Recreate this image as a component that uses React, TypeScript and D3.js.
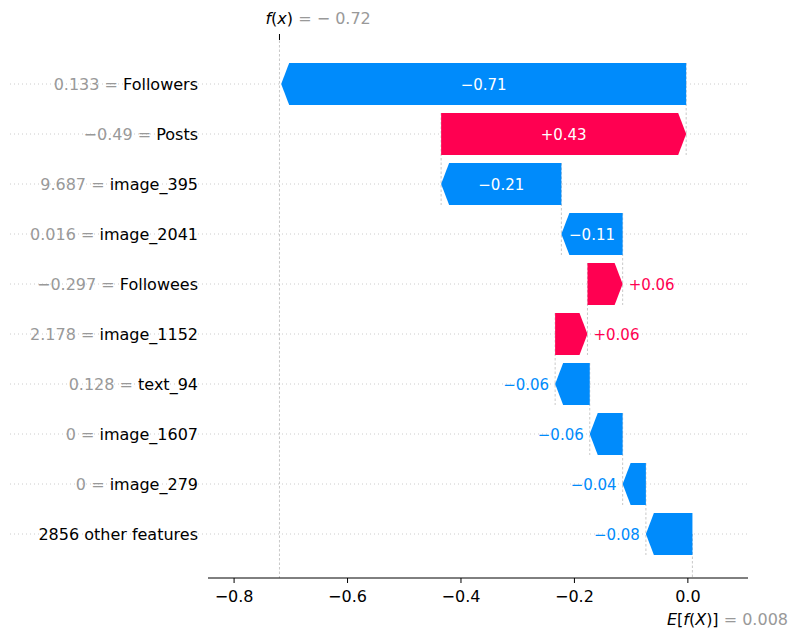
import React from "react";
import * as d3 from "d3";

const featureValues = ["0.133", "\u22120.49", "9.687", "0.016", "\u22120.297", "2.178", "0.128", "0", "0", ""];
const featureNames = ["Followers", "Posts", "image_395", "image_2041", "Followees", "image_1152", "text_94", "image_1607", "image_279", "2856 other features"];
const shapValues = [-0.714, 0.432, -0.212, -0.108, 0.062, 0.057, -0.061, -0.058, -0.041, -0.082];
const baseValue = 0.008;
const fx = -0.72;
const ticks = [-0.8, -0.6, -0.4, -0.2, 0.0];

const BLUE = "#008bfb", RED = "#ff0051";
const fmt = (v: number) => (v < 0 ? "\u2212" : "+") + Math.abs(v).toFixed(2);
const fmtTick = (v: number) => (v < 0 ? "\u2212" : "") + Math.abs(v).toFixed(1);

export default function App() {
  const W = 798, H = 640;
  const x = d3.scaleLinear().domain([-0.846, 0.106]).range([208, 748]);
  const y = (i: number) => 84 + i * 50;
  const bh = 42, notch = 8;
  const n = shapValues.length;
  // cumulative: start from base at bottom
  const ends: number[] = new Array(n);
  const starts: number[] = new Array(n);
  let cur = baseValue;
  for (let i = n - 1; i >= 0; i--) {
    starts[i] = cur;
    cur += shapValues[i];
    ends[i] = cur;
  }
  const axisY = 578;
  const font = "DejaVu Sans, sans-serif";
  return (
    <svg width={W} height={H} style={{ position: "absolute", left: 0, top: 0 }} fontFamily={font}>
      {d3.range(n).map(i => (
        <line key={"g" + i} x1={10} x2={748} y1={y(i)} y2={y(i)} stroke="#ccc" strokeWidth={1} strokeDasharray="1,3" />
      ))}
      <line x1={x(fx)} x2={x(fx)} y1={36} y2={axisY} stroke="#bbb" strokeWidth={0.8} strokeDasharray="2.5,2" />
      <line x1={x(fx)} x2={x(fx)} y1={34} y2={40} stroke="#000" strokeWidth={1} />
      <line x1={x(baseValue)} x2={x(baseValue)} y1={y(n - 1)} y2={axisY} stroke="#bbb" strokeWidth={0.8} strokeDasharray="2.5,2" />
      {d3.range(n - 1).map(i => (
        <line key={"c" + i} x1={x(starts[i])} x2={x(starts[i])} y1={y(i) - bh / 2} y2={y(i + 1) + bh / 2} stroke="#bbb" strokeWidth={0.8} strokeDasharray="2.5,2" />
      ))}
      {d3.range(n).map(i => {
        const v = shapValues[i];
        const a = x(Math.min(starts[i], ends[i]));
        const b = x(Math.max(starts[i], ends[i]));
        const t = y(i) - bh / 2, bo = y(i) + bh / 2;
        const nt = Math.min(notch, b - a);
        const p = v > 0
          ? `M${a},${t}L${b - nt},${t}L${b},${y(i)}L${b - nt},${bo}L${a},${bo}Z`
          : `M${b},${t}L${a + nt},${t}L${a},${y(i)}L${a + nt},${bo}L${b},${bo}Z`;
        const col = v > 0 ? RED : BLUE;
        const inside = b - a > 60;
        const lx = inside ? (a + b) / 2 : v > 0 ? b + 6 : a - 6;
        return (
          <g key={"b" + i}>
            <path d={p} fill={col} />
            <text x={lx} y={y(i) + 5.5} fontSize={15} fill={inside ? "#fff" : col}
              textAnchor={inside ? "middle" : v > 0 ? "start" : "end"}>{fmt(v)}</text>
            <text x={198} y={y(i) + 6} fontSize={16} textAnchor="end">
              {featureValues[i] !== "" && <tspan fill="#999">{featureValues[i]} = </tspan>}
              <tspan fill="#000">{featureNames[i]}</tspan>
            </text>
          </g>
        );
      })}
      <line x1={208} x2={748} y1={axisY} y2={axisY} stroke="#000" strokeWidth={1} />
      {ticks.map(t => (
        <g key={"t" + t}>
          <line x1={x(t)} x2={x(t)} y1={axisY} y2={axisY + 5} stroke="#000" />
          <text x={x(t)} y={axisY + 24} fontSize={16} textAnchor="middle">{fmtTick(t)}</text>
        </g>
      ))}
      <text x={x(fx) - 14} y={24} fontSize={16}>
        <tspan fontStyle="italic">f</tspan><tspan>(</tspan><tspan fontStyle="italic">x</tspan><tspan>)</tspan>
        <tspan fill="#999"> = − 0.72</tspan>
      </text>
      <text x={788} y={625} fontSize={16} textAnchor="end">
        <tspan fontStyle="italic">E</tspan><tspan>[</tspan><tspan fontStyle="italic">f</tspan><tspan>(</tspan><tspan fontStyle="italic">X</tspan><tspan>)]</tspan>
        <tspan fill="#999"> = 0.008</tspan>
      </text>
    </svg>
  );
}
